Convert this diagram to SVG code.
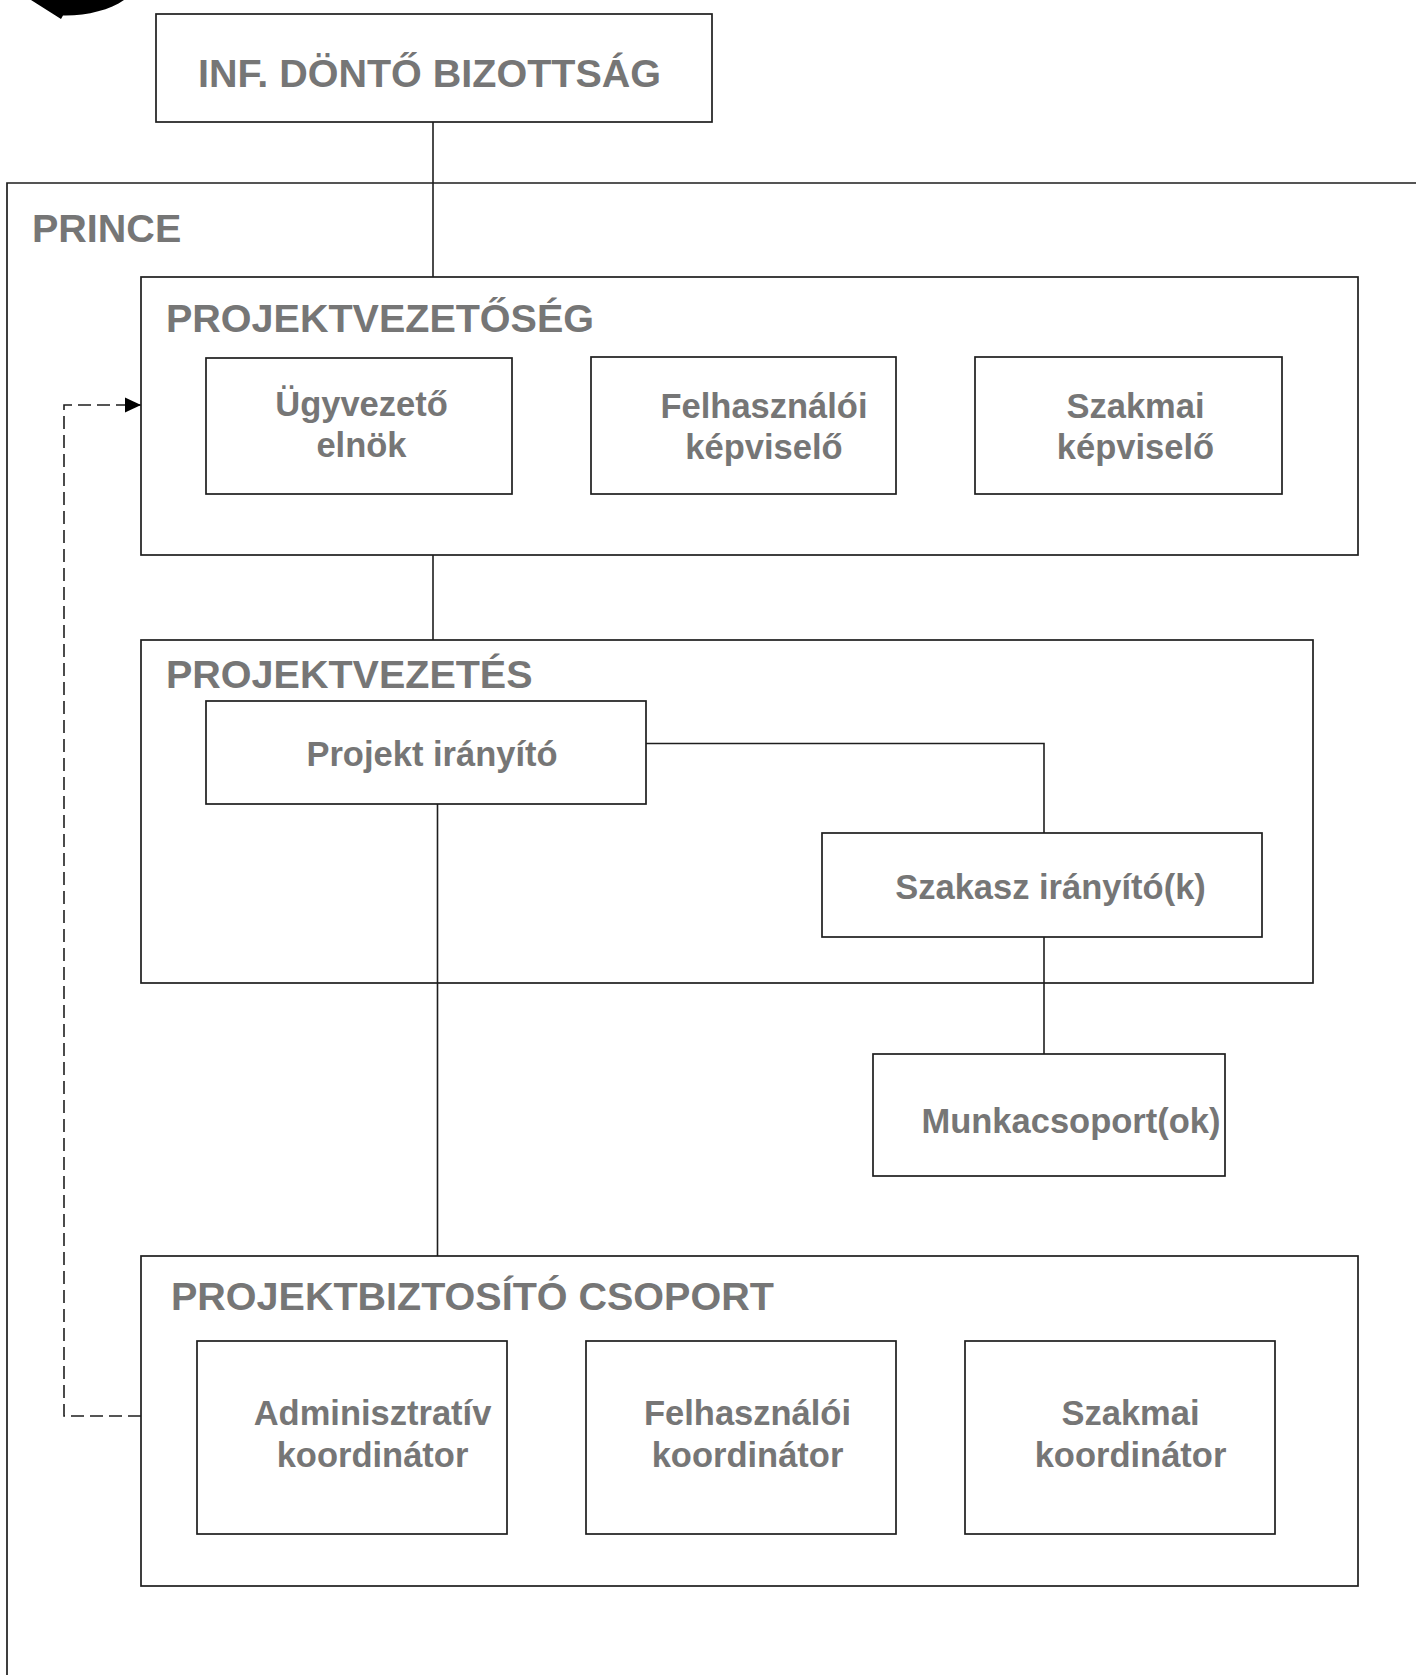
<svg xmlns="http://www.w3.org/2000/svg" width="1416" height="1675" viewBox="0 0 1416 1675">
  <style>
    .box { fill: #ffffff; stroke: #1e1e1e; stroke-width: 1.7; }
    .frame { fill: none; stroke: #1e1e1e; stroke-width: 1.7; }
    .conn { fill: none; stroke: #1e1e1e; stroke-width: 1.6; }
    .dash { fill: none; stroke: #1e1e1e; stroke-width: 1.6; stroke-dasharray: 13 6; }
    .title { font-family: "Liberation Sans", Arial, sans-serif; font-weight: bold; font-size: 39.5px; fill: #767676; }
    .lbl { font-family: "Liberation Sans", Arial, sans-serif; font-weight: bold; font-size: 34.5px; fill: #767676; text-anchor: middle; }
  </style>
  <defs>
    <marker id="arrow" markerWidth="17" markerHeight="16" refX="16" refY="8" orient="auto" markerUnits="userSpaceOnUse">
      <path d="M0,0.5 L16,8 L0,15.5 Z" fill="#000"/>
    </marker>
  </defs>
  <rect x="0" y="0" width="1416" height="1675" fill="#ffffff"/>

  <g id="corner-arrow">
    <path d="M31,0 L61,19 L63,15.5 C86,16 110,10 124,0 Z" fill="#000"/>
  </g>

  <g id="prince">
    <path class="frame" d="M1417,183 H7 V1676"/>
    <text class="title" x="32" y="241.5" font-size="39">PRINCE</text>
  </g>

  <g id="connectors">
    <line class="conn" x1="433" y1="122" x2="433" y2="277"/>
    <line class="conn" x1="433" y1="555" x2="433" y2="640"/>
    <line class="conn" x1="437.5" y1="804" x2="437.5" y2="1256"/>
    <polyline class="conn" points="646,743.5 1044,743.5 1044,833"/>
    <line class="conn" x1="1044" y1="937" x2="1044" y2="1054"/>
    <polyline class="dash" points="141,1416 64,1416 64,405 141,405" marker-end="url(#arrow)"/>
  </g>

  <g id="inf-donto-bizottsag">
    <rect class="box" x="156" y="14" width="556" height="108"/>
    <text class="title" x="198" y="87" font-size="39">INF. DÖNTŐ BIZOTTSÁG</text>
  </g>

  <g id="projektvezetoseg">
    <rect class="frame" x="141" y="277" width="1217" height="278"/>
    <text class="title" x="166" y="331.5">PROJEKTVEZETŐSÉG</text>
  </g>
  <g id="ugyvezeto-elnok">
    <rect class="box" x="206" y="358" width="306" height="136"/>
    <text class="lbl" x="361.5" y="416">Ügyvezető</text>
    <text class="lbl" x="361.5" y="456.5">elnök</text>
  </g>
  <g id="felhasznaloi-kepviselo">
    <rect class="box" x="591" y="357" width="305" height="137"/>
    <text class="lbl" x="764" y="418">Felhasználói</text>
    <text class="lbl" x="764" y="459">képviselő</text>
  </g>
  <g id="szakmai-kepviselo">
    <rect class="box" x="975" y="357" width="307" height="137"/>
    <text class="lbl" x="1135.5" y="418">Szakmai</text>
    <text class="lbl" x="1135.5" y="459">képviselő</text>
  </g>

  <g id="projektvezetes">
    <rect class="frame" x="141" y="640" width="1172" height="343"/>
    <text class="title" x="166" y="688">PROJEKTVEZETÉS</text>
  </g>
  <g id="projekt-iranyito">
    <rect class="box" x="206" y="701" width="440" height="103"/>
    <text class="lbl" x="432" y="765.5">Projekt irányító</text>
  </g>
  <g id="szakasz-iranyito">
    <rect class="box" x="822" y="833" width="440" height="104"/>
    <text class="lbl" x="1050.5" y="898.5">Szakasz irányító(k)</text>
  </g>
  <g id="munkacsoport">
    <rect class="box" x="873" y="1054" width="352" height="122"/>
    <text class="lbl" x="1071" y="1133">Munkacsoport(ok)</text>
  </g>

  <g id="projektbiztosito-csoport">
    <rect class="frame" x="141" y="1256" width="1217" height="330"/>
    <text class="title" x="171" y="1309.5">PROJEKTBIZTOSÍTÓ CSOPORT</text>
  </g>
  <g id="adminisztrativ-koordinator">
    <rect class="box" x="197" y="1341" width="310" height="193"/>
    <text class="lbl" x="372.5" y="1424.5">Adminisztratív</text>
    <text class="lbl" x="372.5" y="1467">koordinátor</text>
  </g>
  <g id="felhasznaloi-koordinator">
    <rect class="box" x="586" y="1341" width="310" height="193"/>
    <text class="lbl" x="747.5" y="1424.5">Felhasználói</text>
    <text class="lbl" x="747.5" y="1467">koordinátor</text>
  </g>
  <g id="szakmai-koordinator">
    <rect class="box" x="965" y="1341" width="310" height="193"/>
    <text class="lbl" x="1130.5" y="1424.5">Szakmai</text>
    <text class="lbl" x="1130.5" y="1467">koordinátor</text>
  </g>
</svg>
